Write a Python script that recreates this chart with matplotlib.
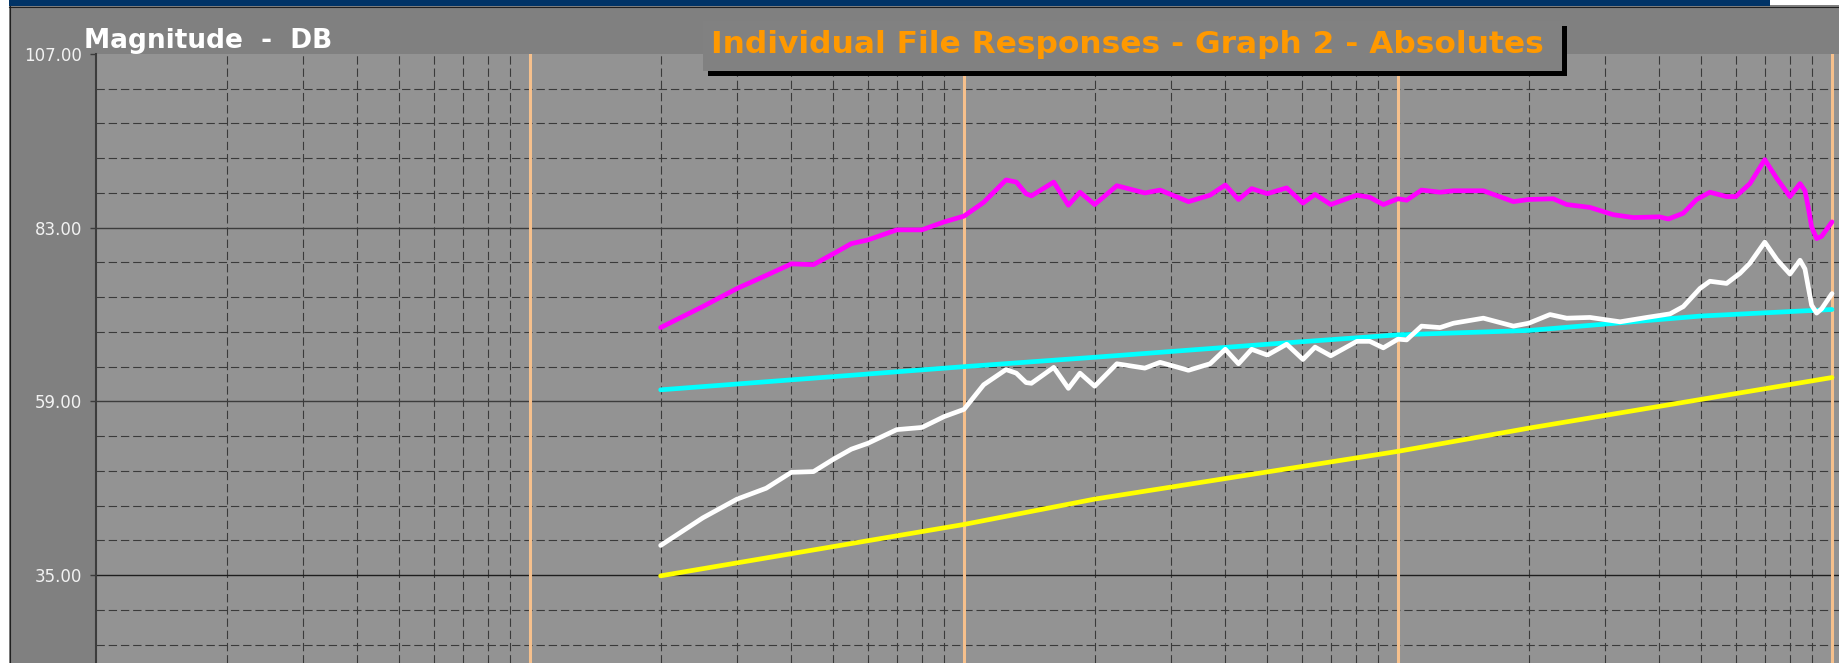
import matplotlib
matplotlib.use('Agg')
import matplotlib.pyplot as plt
from matplotlib.patches import Rectangle

# ---- data ----
freq_magenta = [20, 25, 30, 35, 40, 45, 50, 55, 60, 70, 80, 90, 100, 111, 125, 132, 139,
                143, 161, 174, 185, 200, 225, 261, 283, 329, 369, 400, 429, 460, 500, 554,
                604, 644, 700, 804, 861, 925, 1000, 1047, 1133, 1250, 1342, 1573, 1845, 2000,
                2279, 2447, 2769, 3133, 3485, 4000, 4198, 4543, 4877, 5232, 5716, 6000, 6471,
                7000, 7463, 8000, 8441, 8664, 8817, 8975, 9217, 9465, 10000]
db_magenta = [69.2, 72.1, 74.6, 76.4, 78.0, 77.9, 79.4, 80.8, 81.3, 82.7, 82.7, 83.8, 84.6, 86.5, 89.6, 89.3, 87.7,
              87.4, 89.3, 86.1, 87.9, 86.2, 88.8, 87.8, 88.2, 86.6, 87.5, 88.9, 86.9, 88.4, 87.7, 88.5,
              86.4, 87.6, 86.2, 87.5, 87.2, 86.2, 87.0, 86.8, 88.2, 87.9, 88.1, 88.1, 86.6, 86.9,
              87.0, 86.2, 85.8, 84.8, 84.4, 84.5, 84.2, 85.0, 86.9, 87.9, 87.3, 87.3, 89.1,
              92.4, 89.8, 87.3, 89.1, 88.1, 85.8, 83.1, 81.5, 81.8, 83.8]

freq_white = [20, 25, 30, 35, 40, 45, 50, 55, 60, 70, 80, 90, 100, 111, 125, 132, 139,
              143, 161, 174, 185, 200, 225, 261, 283, 329, 369, 400, 429, 460, 500, 554,
              604, 644, 700, 804, 861, 925, 1000, 1047, 1133, 1250, 1342, 1573, 1845, 2000,
              2240, 2447, 2769, 3249, 3742, 4236, 4543, 4963, 5232, 5716, 6138, 6471,
              7000, 7463, 8000, 8441, 8664, 8817, 8975, 9217, 9465, 10000]
db_white = [39.1, 42.9, 45.5, 47.0, 49.2, 49.3, 51.0, 52.4, 53.2, 55.1, 55.4, 56.9, 57.9, 61.3, 63.4, 62.9, 61.6,
            61.5, 63.7, 60.8, 62.9, 61.1, 64.2, 63.6, 64.4, 63.3, 64.2, 66.2, 64.2, 66.2, 65.4, 66.9,
            64.8, 66.5, 65.3, 67.3, 67.3, 66.4, 67.6, 67.5, 69.4, 69.2, 69.8, 70.5, 69.4, 69.8,
            71.0, 70.5, 70.6, 70.0, 70.6, 71.1, 72.1, 74.6, 75.6, 75.3, 76.7, 78.1,
            81.0, 78.6, 76.6, 78.5, 77.3, 74.8, 72.3, 71.2, 71.8, 73.9]

freq_cyan = [20, 100, 200, 500, 1000, 2000, 5000, 10000]
db_cyan = [60.6, 63.8, 65.1, 66.9, 68.2, 68.8, 70.8, 71.7]

freq_yellow = [20, 100, 200, 1000, 2000, 10000]
db_yellow = [34.9, 42.0, 45.5, 52.1, 55.3, 62.3]

y_major = [35, 59, 83, 107]
y_minor = [25.4, 30.2, 39.8, 44.6, 49.4, 54.2, 63.8, 68.6, 73.4, 78.2, 87.8, 92.6, 97.4, 102.2]
x_decades = [10, 100, 1000, 10000]
x_minor = [k * d for d in [1, 10, 100, 1000] for k in range(2, 10)]

# ---- layout (pixels) ----
W, H = 1839, 663
DPI = 100
PLOT_L, PLOT_T = 96, 54
DEC_PX = 434.0
DB_PER_PX = 24 / 173.7


def fx(px):
    return px / W


def fy(py):
    return 1 - py / H


fig = plt.figure(figsize=(W / DPI, H / DPI), dpi=DPI, facecolor='white')

# frame pieces (behind the axes)
fig.patches.append(Rectangle((fx(9), fy(54)), fx(W - 9), 49 / H, transform=fig.transFigure,
                             facecolor='#808080', edgecolor='none', zorder=-2))
fig.patches.append(Rectangle((fx(9), 0), fx(PLOT_L - 9), fy(PLOT_T), transform=fig.transFigure,
                             facecolor='#808080', edgecolor='none', zorder=-2))
fig.patches.append(Rectangle((fx(9), fy(6)), fx(1770 - 9), 6 / H, transform=fig.transFigure,
                             facecolor='#003366', edgecolor='none', zorder=-1))
fig.add_artist(plt.Line2D([fx(9), 1], [fy(6.5), fy(6.5)], transform=fig.transFigure,
                          color='#202020', lw=0.8, zorder=-1))
fig.add_artist(plt.Line2D([fx(9.5), fx(9.5)], [0, 1], transform=fig.transFigure,
                          color='#202020', lw=0.8, zorder=-1))

ax = fig.add_axes([fx(PLOT_L), 0, fx(W - PLOT_L), (H - PLOT_T) / H])
ax.set_facecolor('#939393')
ax.set_xscale('log')
ax.set_xlim(1, 10 ** ((W - PLOT_L) / DEC_PX))
ax.set_ylim(107 - (H - PLOT_T) * DB_PER_PX, 107)

dash = (0, (7.5, 3.5))
for y in y_minor:
    ax.axhline(y, color='#3a3a3a', lw=0.8, linestyle=dash, zorder=1)
for x in x_minor:
    ax.axvline(x, color='#3a3a3a', lw=0.8, linestyle=dash, zorder=1)
for y in y_major[:-1]:
    ax.axhline(y, color='#1e1e1e' if y == 35 else '#3c3c3c', lw=1.0, zorder=1.5)
for x in x_decades:
    ax.axvline(x, color='#F6C08C', lw=2.2, zorder=2)

line_kw = dict(lw=3.4, solid_capstyle='round', solid_joinstyle='round', zorder=3)
ax.plot(freq_yellow, db_yellow, color='#FFFF00', **line_kw)
ax.plot(freq_cyan, db_cyan, color='#00FFFF', **line_kw)
ax.plot(freq_white, db_white, color='#FFFFFF', **line_kw)
ax.plot(freq_magenta, db_magenta, color='#FF00FF', **line_kw)

for side in ['top', 'right', 'bottom']:
    ax.spines[side].set_visible(False)
ax.spines['left'].set_color('#3c3c3c')
ax.spines['left'].set_linewidth(1.5)
ax.set_xticks([])
ax.set_xticks([], minor=True)
ax.set_yticks(y_major)
ax.set_yticklabels([f'{v:.2f}' for v in y_major])
ax.set_yticks([], minor=True)
ax.tick_params(axis='y', length=4, width=1, color='#3c3c3c', labelcolor='#f2f2f2',
               labelsize=12, pad=6)

# headings
fig.text(fx(84), fy(48), 'Magnitude  -  DB', color='white', fontsize=19,
         fontweight='bold', va='baseline', ha='left')

fig.patches.append(Rectangle((fx(708), fy(76)), 859 / W, 50 / H, transform=fig.transFigure,
                             facecolor='black', edgecolor='none', zorder=5))
fig.patches.append(Rectangle((fx(703), fy(71)), 859 / W, 50 / H, transform=fig.transFigure,
                             facecolor='#818181', edgecolor='none', zorder=6))
fig.text(fx(711), fy(53), 'Individual File Responses - Graph 2 - Absolutes', color='#FF9900',
         fontsize=22.5, fontweight='bold', va='baseline', ha='left', zorder=7)

fig.savefig('out.png', dpi=DPI, facecolor='white')
